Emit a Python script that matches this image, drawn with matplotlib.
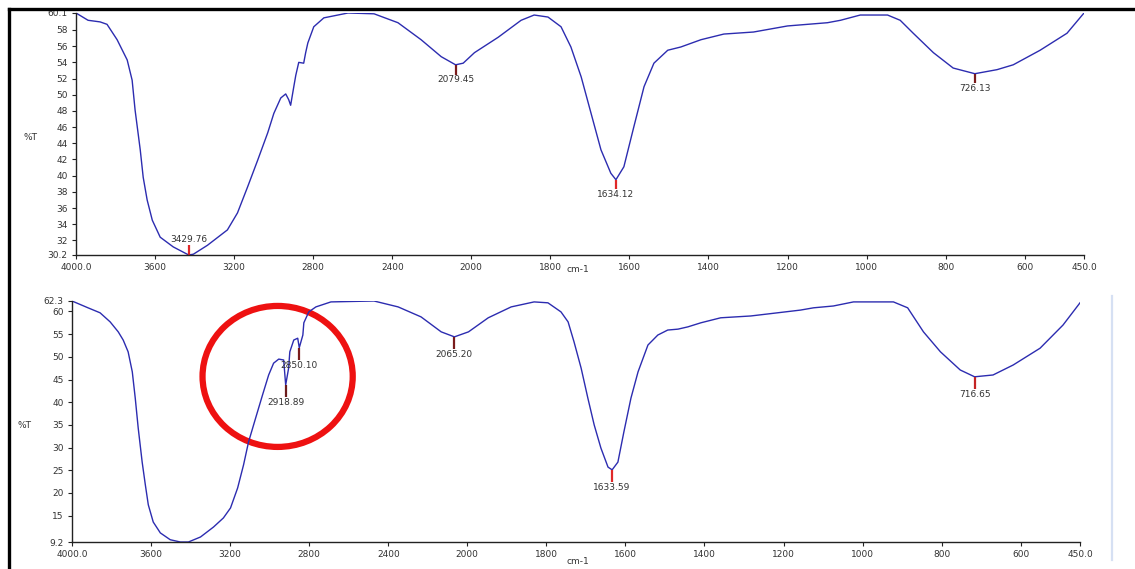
import numpy as np
import matplotlib
matplotlib.use('Agg')
import matplotlib.pyplot as plt
from matplotlib.lines import Line2D
from matplotlib.patches import Ellipse

# ---- spectrum 1 (top) ----
wn_top = [4000, 3939, 3878, 3843, 3792, 3741, 3716, 3701, 3675, 3660, 3640, 3614, 3574, 3508,
          3429.76, 3406, 3335, 3234, 3183, 3132, 3081, 3030, 2999, 2964, 2939, 2924, 2914,
          2898, 2888, 2873, 2848, 2838, 2827, 2797, 2746, 2624, 2492, 2371, 2254, 2152,
          2079.45, 2041, 1992, 1932, 1874, 1841, 1806, 1773, 1748, 1722, 1697, 1672, 1647,
          1634.12, 1614, 1589, 1563, 1538, 1503, 1470, 1419, 1361, 1286, 1200, 1099, 1066,
          1016, 947, 915, 882, 831, 781, 726.13, 670, 629, 561, 493, 450]
t_top = [60.1, 59.2, 59.0, 58.7, 56.8, 54.3, 51.8, 48.1, 43.2, 39.8, 37.0, 34.5, 32.4, 31.2,
         30.2, 30.3, 31.4, 33.3, 35.4, 38.6, 41.9, 45.3, 47.7, 49.6, 50.1, 49.4, 48.7,
         51.0, 52.4, 54.0, 53.9, 55.2, 56.4, 58.4, 59.5, 60.1, 60.0, 58.9, 56.8, 54.7,
         53.7, 53.9, 55.2, 57.1, 59.2, 59.85, 59.6, 58.4, 55.9, 52.2, 47.7, 43.2, 40.3,
         39.5, 41.1, 46.0, 51.0, 53.9, 55.5, 55.9, 56.8, 57.5, 57.75, 58.5, 58.9, 59.2,
         59.85, 59.85, 59.2, 57.6, 55.2, 53.3, 52.6, 53.1, 53.7, 55.5, 57.6, 60.1]
peaks_top = [3429.76, 2079.45, 1634.12, 726.13]
peak_colors_top = ['#e02828', '#7a1c1c', '#e02828', '#7a1c1c']
yticks_top = [30.2, 32, 34, 36, 38, 40, 42, 44, 46, 48, 50, 52, 54, 56, 58, 60.1]
ylabels_top = ['30.2', '32', '34', '36', '38', '40', '42', '44', '46', '48', '50', '52',
               '54', '56', '58', '60.1']

# ---- spectrum 2 (bottom) ----
wn_bot = [4000, 3919, 3858, 3807, 3766, 3741, 3716, 3695, 3680, 3665, 3645, 3629, 3614, 3589,
          3553, 3503, 3452, 3411, 3350, 3284, 3234, 3198, 3162, 3132, 3107, 3071, 3036,
          3005, 2980, 2954, 2929, 2918.89, 2904, 2898, 2878, 2858, 2850.10, 2832, 2827, 2802,
          2766, 2690, 2472, 2350, 2234, 2132, 2065.20, 1997, 1947, 1889, 1831, 1796, 1763,
          1745, 1730, 1712, 1695, 1679, 1662, 1644, 1633.59, 1619, 1604, 1586, 1568, 1543,
          1518, 1493, 1467, 1442, 1409, 1359, 1283, 1215, 1157, 1124, 1074, 1023, 922, 886,
          846, 803, 753, 716.65, 670, 619, 551, 493, 450]
t_bot = [62.3, 60.8, 59.7, 57.7, 55.5, 53.7, 51.1, 46.7, 40.9, 34.3, 26.8, 21.8, 17.4, 13.6,
         11.2, 9.7, 9.2, 9.2, 10.3, 12.5, 14.5, 16.7, 21.1, 26.2, 31.2, 36.5, 41.6,
         46.0, 48.6, 49.5, 49.3, 43.8, 47.5, 51.1, 53.7, 54.1, 52.0, 54.8, 57.5, 59.9,
         61.0, 62.1, 62.3, 61.0, 58.8, 55.5, 54.4, 55.5, 58.6, 61.0, 62.1, 61.9, 59.9,
         57.7, 53.3, 47.5, 40.9, 35.0, 29.9, 25.7, 25.1, 26.8, 33.4, 40.9, 46.7, 52.6,
         54.8, 55.9, 56.1, 56.6, 57.5, 58.6, 59.0, 59.7, 60.3, 60.8, 61.2, 62.1, 62.1, 60.8,
         55.5, 51.1, 47.1, 45.6, 46.0, 48.2, 51.9, 57.0, 61.9]
peaks_bot = [2918.89, 2850.10, 2065.20, 1633.59, 716.65]
peak_colors_bot = ['#6b1c1c', '#7a1c1c', '#7a1c1c', '#e02828', '#c42424']
yticks_bot = [9.2, 15, 20, 25, 30, 35, 40, 45, 50, 55, 60, 62.3]
ylabels_bot = ['9.2', '15', '20', '25', '30', '35', '40', '45', '50', '55', '60', '62.3']

xticks = [4000, 3600, 3200, 2800, 2400, 2000, 1800, 1600, 1400, 1200, 1000, 800, 600, 450]
xlabels = ['4000.0', '3600', '3200', '2800', '2400', '2000', '1800', '1600', '1400', '1200',
           '1000', '800', '600', '450.0']


# instrument x axis: scale doubles below 2000 cm-1
def fwd(x):
    x = np.asarray(x, dtype=float)
    return np.where(x >= 2000, x, 2 * x - 2000)


def inv(u):
    u = np.asarray(u, dtype=float)
    return np.where(u >= 2000, u, (u + 2000) / 2)


line_col = '#2c2cb0'
txt_col = '#333333'

fig = plt.figure(figsize=(11.35, 5.69), dpi=100, facecolor='white')
ax1 = fig.add_axes([76 / 1135, 1 - 255 / 569, 1008 / 1135, 242 / 569])
ax2 = fig.add_axes([72 / 1135, 1 - 542 / 569, 1008 / 1135, 241 / 569])


def style(ax, yt, yl):
    ax.set_xscale('function', functions=(fwd, inv))
    ax.set_xlim(4000, 450)
    ax.set_ylim(yt[0], yt[-1])
    ax.set_xticks(xticks)
    ax.set_xticklabels(xlabels)
    ax.set_yticks(yt)
    ax.set_yticklabels(yl)
    ax.minorticks_off()
    for s in ['top', 'right']:
        ax.spines[s].set_visible(False)
    for s in ['left', 'bottom']:
        ax.spines[s].set_color('#222222')
        ax.spines[s].set_linewidth(1.0)
    ax.tick_params(axis='both', direction='out', length=3, width=0.8, colors='#222222',
                   labelsize=6.5, labelcolor=txt_col, pad=3)


def mark_peaks(ax, wn, t, peaks, colors, tick_len, below=True):
    xs = np.array(wn)[::-1]
    ys = np.array(t)[::-1]
    ymin = ax.get_ylim()[0]
    for p, c in zip(peaks, colors):
        v = np.interp(p, xs, ys)
        if v - tick_len < ymin:
            # peak sits on the axis floor: marker and label go upward
            ax.plot([p, p], [v, v + tick_len], color=c, lw=1.6, solid_capstyle='butt')
            ax.text(p, v + tick_len * 1.15, '%.2f' % p, ha='center', va='bottom',
                    fontsize=6.5, color=txt_col)
        else:
            ax.plot([p, p], [v, v - tick_len], color=c, lw=1.6, solid_capstyle='butt')
            ax.text(p, v - tick_len * 1.1, '%.2f' % p, ha='center', va='top',
                    fontsize=6.5, color=txt_col)


style(ax1, yticks_top, ylabels_top)
style(ax2, yticks_bot, ylabels_bot)

ax1.plot(wn_top, t_top, color=line_col, lw=1.0)
ax2.plot(wn_bot, t_bot, color=line_col, lw=1.0)

mark_peaks(ax1, wn_top, t_top, peaks_top, peak_colors_top, 1.2)
mark_peaks(ax2, wn_bot, t_bot, peaks_bot, peak_colors_bot, 2.6)

# axis titles
fig.text(30 / 1135, 1 - 137 / 569, '%T', fontsize=6.5, color=txt_col, ha='center', va='center')
fig.text(25 / 1135, 1 - 425 / 569, '%T', fontsize=6.5, color=txt_col, ha='center', va='center')
fig.text(578 / 1135, 1 - 270 / 569, 'cm-1', fontsize=6.5, color=txt_col, ha='center', va='center')
fig.text(578 / 1135, 1 - 562 / 569, 'cm-1', fontsize=6.5, color=txt_col, ha='center', va='center')

# red highlight circle around the C-H stretch region
ax2.add_patch(Ellipse((0.204, 0.687), 0.149, 0.585, transform=ax2.transAxes, fill=False,
                      edgecolor='#ee1111', lw=4.5, clip_on=False))

# scan frame lines
fig.add_artist(Line2D([9 / 1135, 1], [1 - 9 / 569, 1 - 9 / 569], color='black', lw=2.4,
                      transform=fig.transFigure))
fig.add_artist(Line2D([9 / 1135, 9 / 1135], [0, 1 - 9 / 569], color='black', lw=2.4,
                      transform=fig.transFigure))
fig.add_artist(Line2D([1112 / 1135, 1112 / 1135], [1 - 560 / 569, 1 - 296 / 569],
                      color='#d6e0f3', lw=1.6, transform=fig.transFigure))

fig.savefig('out.png', dpi=100, facecolor='white')
